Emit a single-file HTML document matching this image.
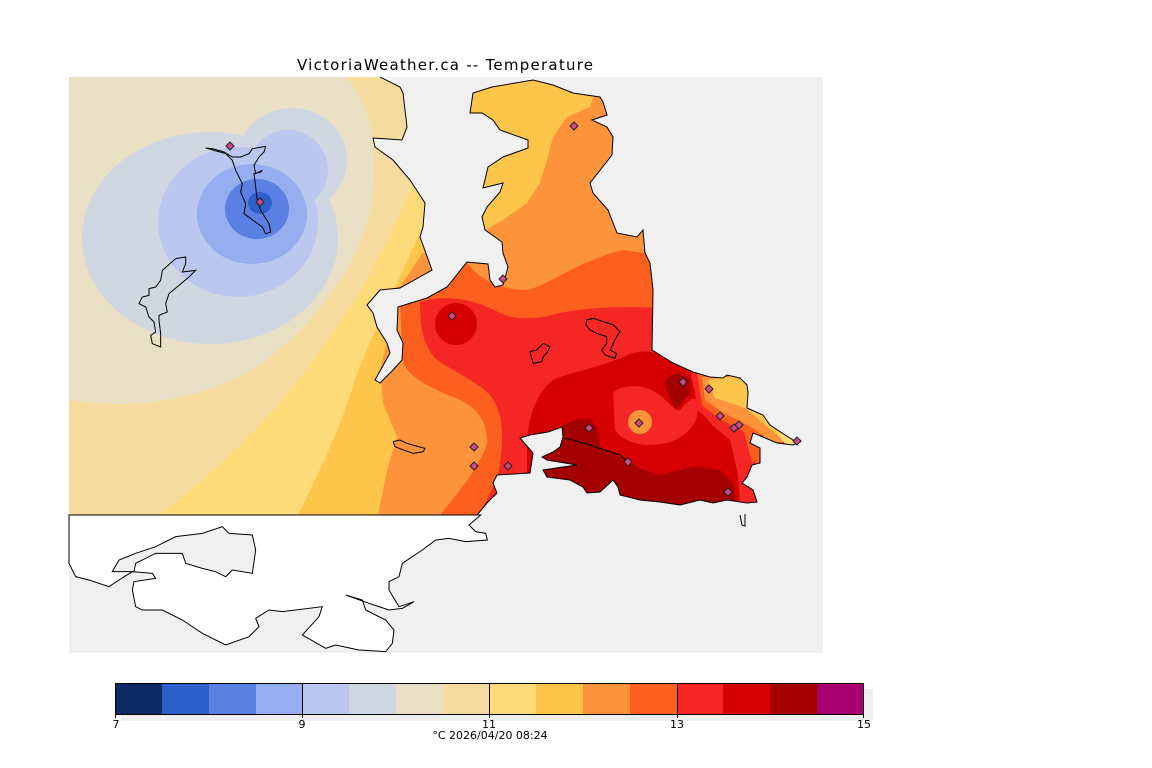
<!DOCTYPE html>
<html><head><meta charset="utf-8"><style>
html,body{margin:0;padding:0;background:#fff;}
svg{display:block;}
text{font-family:"DejaVu Sans","Liberation Sans",sans-serif;}
</style></head><body>
<svg width="1152" height="768" viewBox="0 0 1152 768" xmlns="http://www.w3.org/2000/svg">
<defs>
<clipPath id="fc"><polygon points="69,77 380,77 400,87 403,93 407,127 402,140 373,138 375,147 393,160 410,180 425,203 423,227 420,237 432,270 400,288 380,290 367,305 373,313 377,327 387,343 390,353 375,380 380,383 393,370 402,360 403,343 397,330 398,307 427,298 447,287 467,262 488,264 490,280 495,287 503,285 508,267 503,253 502,242 485,230 482,217 487,207 500,192 503,183 483,188 488,167 503,157 528,148 528,140 500,130 493,120 482,113 470,113 473,93 492,87 533,80 553,85 573,93 600,97 603,102 607,115 592,120 607,127 613,137 612,155 590,183 593,193 608,210 617,233 637,237 643,230 645,253 650,263 653,290 652,350 673,363 693,372 710,377 723,378 727,375 740,378 747,385 748,393 747,408 763,415 770,425 782,433 793,440 800,442 793,445 777,443 763,437 753,433 750,443 760,448 760,463 752,465 747,477 742,483 753,490 757,502 747,503 727,500 713,503 700,500 680,505 660,502 640,500 620,495 618,487 613,480 600,492 587,493 583,487 570,480 547,477 543,470 563,467 577,465 547,460 542,457 553,452 560,447 563,437 562,427 548,432 530,435 520,438 533,453 530,473 497,475 493,483 497,493 487,503 477,515 69,515"/></clipPath>
</defs>
<rect x="0" y="0" width="1152" height="768" fill="#fff"/>
<text x="445" y="70" font-size="15" text-anchor="middle" textLength="296" fill="#000">VictoriaWeather.ca -- Temperature</text>
<rect x="69" y="77" width="754" height="576" fill="#f0f0f0"/>

<g clip-path="url(#fc)">
<rect x="69" y="77" width="760" height="445" fill="#e8dfc4"/>
<path fill="#f5dc9e" d="M346,77 C372,105 378,150 372,200 C362,260 320,320 260,365 C210,395 150,412 69,400 L69,520 L830,520 L830,77 Z"/>
<path fill="#fedb78" d="M425,77 L425,150 L412,184 C395,230 365,290 320,350 C280,410 220,470 152,520 L830,520 L830,77 Z"/>
<path fill="#fdc54a" d="M440,77 L440,150 L422,227 C405,270 375,325 355,380 C340,430 320,470 296,520 L830,520 L830,77 Z"/>
<polygon fill="#fd943c" points="440,245 422,254 402,284 380,370 383,403 397,437 387,470 377,520 830,520 830,77 600,77 590,107 567,117 553,137 547,160 540,183 527,203 503,220 485,230"/>
<path fill="#fd5f1f" d="M390,290 L467,263 C480,280 500,290 527,290 C550,285 575,262 623,250 L660,255 L830,255 L830,520 L437,520 C450,500 480,470 487,443 C488,420 475,405 453,397 C430,388 405,375 403,360 L400,303 Z"/>
<path fill="#f42725" d="M420,302 C445,295 470,297 500,313 C515,320 535,320 560,313 C590,307 620,306 660,308 L830,308 L830,520 L478,520 C485,500 500,480 500,463 C503,440 505,415 490,395 C475,380 450,370 435,358 C425,345 420,335 420,302 Z"/>
<circle cx="456" cy="324" r="21" fill="#d60000"/>
<path fill="#d60000" d="M527,437 C530,415 535,395 553,380 C570,372 600,368 627,355 C645,348 660,352 673,363 L693,373 L697,410 L713,423 L733,430 L737,460 L740,503 L737,520 L527,520 Z"/>
<polygon fill="#f42725" points="690,373 705,375 712,400 735,425 748,460 757,505 743,505 737,470 730,440 712,425 700,410"/>
<polygon fill="#fd5f1f" points="697,373 750,373 760,427 763,463 752,462 744,432 718,418 702,405"/>
<polygon fill="#fd943c" points="702,377 750,377 803,440 772,443 753,428 722,412 705,400"/>
<polygon fill="#fdc54a" points="708,380 750,373 803,440 781,438 745,408 715,398"/>
<polygon fill="#fedb78" points="777,433 803,440 787,447"/>
<path fill="#f42725" d="M613,393 C620,385 640,383 655,392 C668,400 675,412 680,410 C688,400 695,395 698,402 C700,420 690,435 670,442 C650,448 625,445 615,430 Z"/>
<circle cx="640" cy="422" r="12" fill="#fd943c"/>
<g transform="translate(360,60) scale(0.33333)">
<path fill="#a50000" d="M915,965 C930,935 960,930 990,960 L990,1000 L945,1050 C935,1020 915,995 915,965 Z"/>
<polygon fill="#a50000" points="600,1100 640,1080 690,1075 715,1110 720,1160 780,1190 850,1230 900,1245 1000,1220 1080,1230 1120,1270 1130,1340 540,1340 545,1200 595,1160"/>
</g>
<ellipse cx="210" cy="238" rx="128" ry="106" fill="#d1d6e3"/>
<ellipse cx="292" cy="160" rx="55" ry="52" fill="#d1d6e3"/>
<ellipse cx="238" cy="222" rx="80" ry="75" fill="#bac8ef"/>
<ellipse cx="288" cy="170" rx="40" ry="40" fill="#bac8ef"/>
<ellipse cx="252" cy="214" rx="55" ry="50" fill="#94aef0"/>
<ellipse cx="257" cy="209" rx="32" ry="30" fill="#5a80e4"/>
<ellipse cx="260" cy="203" rx="12" ry="11" fill="#2e5fca"/>
</g>

<polyline fill="none" stroke="#000" stroke-width="1" points="380,77 400,87 403,93 407,127 402,140 373,138 375,147 393,160 410,180 425,203 423,227 420,237 432,270 400,288 380,290 367,305 373,313 377,327 387,343 390,353 375,380 380,383 393,370 402,360 403,343 397,330 398,307 427,298 447,287 467,262 488,264 490,280 495,287 503,285 508,267 503,253 502,242 485,230 482,217 487,207 500,192 503,183 483,188 488,167 503,157 528,148 528,140 500,130 493,120 482,113 470,113 473,93 492,87 533,80 553,85 573,93 600,97 603,102 607,115 592,120 607,127 613,137 612,155 590,183 593,193 608,210 617,233 637,237 643,230 645,253 650,263 653,290 652,350 673,363 693,372 710,377 723,378 727,375 740,378 747,385 748,393 747,408 763,415 770,425 782,433 793,440 800,442 793,445 777,443 763,437 753,433 750,443 760,448 760,463 752,465 747,477 742,483 753,490 757,502 747,503 727,500 713,503 700,500 680,505 660,502 640,500 620,495 618,487 613,480 600,492 587,493 583,487 570,480 547,477 543,470 563,467 577,465 547,460 542,457 553,452 560,447 563,437 562,427 548,432 530,435 520,438 533,453 530,473 497,475 493,483 497,493 487,503 477,515"/>
<polyline fill="none" stroke="#000" stroke-width="1" points="740,515 742,525 745,526 745,514"/>
<polyline fill="none" stroke="#000" stroke-width="1" points="565,438 590,445 620,455 628,462"/>

<g transform="translate(69,77) scale(0.33333)" fill="none" stroke="#000" stroke-width="3">
<polygon points="410,213 470,230 490,250 500,280 520,320 515,345 530,380 525,410 580,450 590,470 605,465 600,440 575,400 565,370 560,330 555,290 575,285 580,280 560,290 555,265 570,240 585,225 590,208 550,215 540,230 515,240 490,240 465,225 430,215"/>
<polygon points="320,545 350,540 350,560 340,585 380,580 360,600 330,625 300,650 290,680 295,705 270,715 270,730 275,770 275,810 250,800 245,775 260,765 255,735 240,720 230,690 210,680 220,660 240,655 240,635 260,630 275,610 280,580"/>
</g>
<g transform="translate(360,60) scale(0.33333)" fill="none" stroke="#000" stroke-width="3">
<polygon points="680,780 700,775 760,795 780,815 770,830 760,850 750,870 770,880 765,895 735,885 725,870 740,850 740,830 710,820 690,810 678,795"/>
<polygon points="510,875 530,870 550,850 570,860 560,880 550,890 545,905 520,910 515,895"/>
<polygon points="100,1145 120,1140 140,1150 175,1160 195,1165 190,1175 160,1180 130,1170 105,1160"/>
</g>

<g transform="translate(69,510) scale(0.33333)">
<polygon fill="#fff" stroke="#000" stroke-width="3" points="0,15 1235,15 1200,45 1220,65 1250,70 1255,90 1190,95 1140,85 1100,90 1060,120 1000,160 990,200 960,215 960,240 990,290 1035,275 1000,295 960,300 900,280 830,255 880,270 890,300 950,330 975,360 970,400 950,425 870,420 800,405 770,415 700,375 750,320 760,290 640,305 600,300 560,325 570,350 540,380 470,405 400,370 340,330 280,300 220,300 200,290 190,240 195,215 260,205 250,190 190,185 150,210 120,230 60,210 20,200 0,160"/>
<polygon fill="#f0f0f0" stroke="#000" stroke-width="3" points="130,185 150,150 200,130 260,110 320,80 400,70 460,50 480,70 550,75 560,120 550,190 490,180 470,200 440,185 400,175 350,160 340,130 260,130 200,160 195,185"/>
</g>

<g fill="#d04a86" stroke="#222" stroke-width="1">
<polygon points="230,142 234,146 230,150 226,146"/>
<polygon points="260,198 264,202 260,206 256,202"/>
<polygon points="574,122 578,126 574,130 570,126"/>
<polygon points="503,275 507,279 503,283 499,279"/>
<polygon points="452,312 456,316 452,320 448,316"/>
<polygon points="474,443 478,447 474,451 470,447"/>
<polygon points="474,462 478,466 474,470 470,466"/>
<polygon points="508,462 512,466 508,470 504,466"/>
<polygon points="683,378 687,382 683,386 679,382"/>
<polygon points="709,385 713,389 709,393 705,389"/>
<polygon points="720,412 724,416 720,420 716,416"/>
<polygon points="639,419 643,423 639,427 635,423"/>
<polygon points="589,424 593,428 589,432 585,428"/>
<polygon points="734,424 738,428 734,432 730,428"/>
<polygon points="739,421 743,425 739,429 735,425"/>
<polygon points="728,488 732,492 728,496 724,492"/>
<polygon points="797,437 801,441 797,445 793,441"/>
<polygon points="628,458 632,462 628,466 624,462"/>
</g>

<rect x="121" y="689" width="752" height="32" fill="#efefef"/>
<g stroke="none">
<rect x="115" y="683" width="47" height="31" fill="#0d2a66"/>
<rect x="162" y="683" width="47" height="31" fill="#2e5fca"/>
<rect x="209" y="683" width="47" height="31" fill="#5a80e4"/>
<rect x="256" y="683" width="47" height="31" fill="#94aef0"/>
<rect x="302" y="683" width="47" height="31" fill="#bac8ef"/>
<rect x="349" y="683" width="47" height="31" fill="#d1d6e3"/>
<rect x="396" y="683" width="47" height="31" fill="#e8dfc4"/>
<rect x="443" y="683" width="47" height="31" fill="#f5dc9e"/>
<rect x="489" y="683" width="47" height="31" fill="#fedb78"/>
<rect x="536" y="683" width="47" height="31" fill="#fdc54a"/>
<rect x="583" y="683" width="47" height="31" fill="#fd943c"/>
<rect x="630" y="683" width="47" height="31" fill="#fd5f1f"/>
<rect x="677" y="683" width="47" height="31" fill="#f42725"/>
<rect x="723" y="683" width="47" height="31" fill="#d60000"/>
<rect x="770" y="683" width="47" height="31" fill="#a50000"/>
<rect x="817" y="683" width="47" height="31" fill="#a80070"/>
</g>
<rect x="115.5" y="683.5" width="748" height="31" fill="none" stroke="#000" stroke-width="1"/>
<g stroke="#000" stroke-width="1">
<line x1="302.5" y1="683" x2="302.5" y2="718"/>
<line x1="489.5" y1="683" x2="489.5" y2="718"/>
<line x1="677.5" y1="683" x2="677.5" y2="718"/>
<line x1="115.5" y1="714" x2="115.5" y2="718"/>
<line x1="863.5" y1="714" x2="863.5" y2="718"/>
</g>
<g font-size="11" fill="#000" text-anchor="middle">
<text x="116" y="728">7</text>
<text x="302" y="728">9</text>
<text x="489" y="728">11</text>
<text x="677" y="728">13</text>
<text x="864" y="728">15</text>
<text x="490" y="739">°C  2026/04/20 08:24</text>
</g>
</svg>
</body></html>
